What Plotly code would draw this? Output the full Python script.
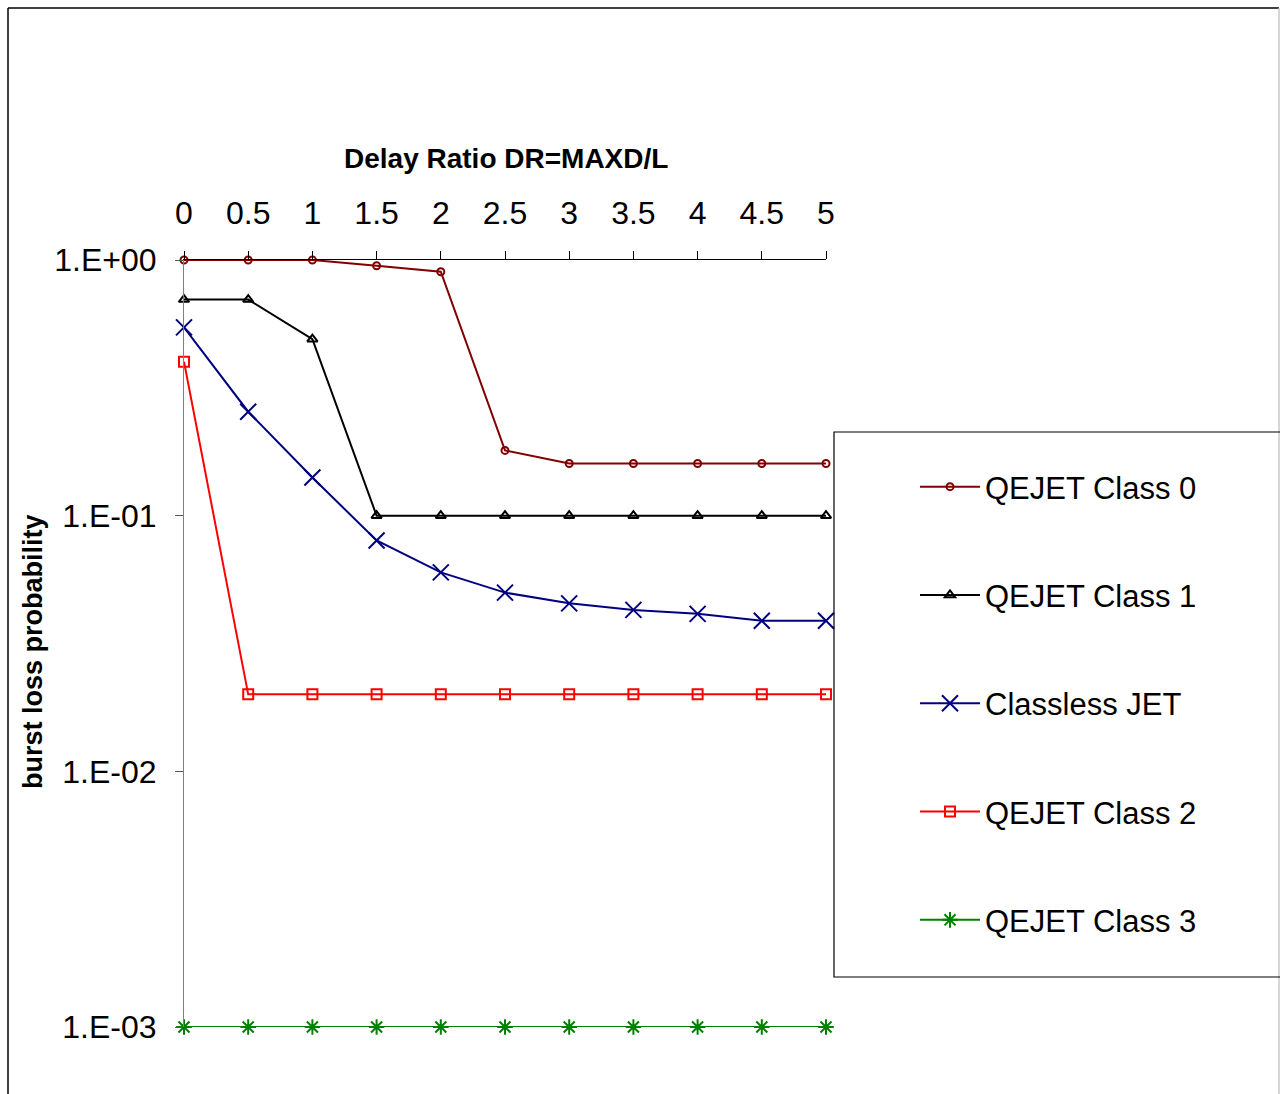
import plotly.graph_objects as go

delay_ratio = [0, 0.5, 1, 1.5, 2, 2.5, 3, 3.5, 4, 4.5, 5]
qejet_class0 = [1.0, 1.0, 1.0, 0.95, 0.90, 0.18, 0.16, 0.16, 0.16, 0.16, 0.16]
qejet_class1 = [0.7, 0.7, 0.49, 0.1, 0.1, 0.1, 0.1, 0.1, 0.1, 0.1, 0.1]
classless_jet = [0.545, 0.255, 0.141, 0.08, 0.06, 0.05, 0.0454, 0.0428, 0.0413, 0.0388, 0.0388]
qejet_class2 = [0.40, 0.02, 0.02, 0.02, 0.02, 0.02, 0.02, 0.02, 0.02, 0.02, 0.02]
qejet_class3 = [0.001] * 11

y_tickvals = [1e-3, 1e-2, 1e-1, 1e0]
y_ticktext = ["1.E-03", "1.E-02", "1.E-01", "1.E+00"]
x_tickvals = [0, 0.5, 1, 1.5, 2, 2.5, 3, 3.5, 4, 4.5, 5]
x_ticktext = ["0", "0.5", "1", "1.5", "2", "2.5", "3", "3.5", "4", "4.5", "5"]

FONT = "Liberation Sans, Arial, sans-serif"

series = [
    ("QEJET Class 0", qejet_class0, "#800000", "circle-open", 7, 2),
    ("QEJET Class 1", qejet_class1, "#000000", "triangle-up-open", 9, 2),
    ("Classless JET", classless_jet, "#000080", "x-thin-open", 16, 2),
    ("QEJET Class 2", qejet_class2, "#FF0000", "square-open", 10, 2),
    ("QEJET Class 3", qejet_class3, "#008000", "asterisk-open", 13, 2),
]

fig = go.Figure()
for i, (name, vals, color, sym, size, lw) in enumerate(series):
    fig.add_trace(go.Scatter(
        x=delay_ratio, y=vals, name=name, mode="lines+markers",
        line=dict(color=color, width=2),
        marker=dict(symbol=sym, size=size, color=color, line=dict(color=color, width=lw)),
        cliponaxis=False, legendgroup=f"g{i}",
    ))

W, H = 1280, 1094
L, R, T, B = 184, 826, 260, 1027
pw, ph = R - L, B - T

def px(xp):
    return (xp - L) / pw

def py(yp):
    return (B - yp) / ph

shapes = [
    # outer frame
    dict(type="line", xref="paper", yref="paper", x0=px(8), x1=px(8), y0=py(8), y1=py(1100), line=dict(color="#000", width=1.5)),
    dict(type="line", xref="paper", yref="paper", x0=px(8), x1=px(1279), y0=py(8), y1=py(8), line=dict(color="#000", width=1.5)),
    dict(type="line", xref="paper", yref="paper", x0=px(1279), x1=px(1279), y0=py(8), y1=py(1100), line=dict(color="#c8c8c8", width=1.5)),
    # legend box
    dict(type="rect", xref="paper", yref="paper", x0=px(834), x1=px(1300), y0=py(977), y1=py(432),
         line=dict(color="#000", width=1.2), fillcolor="rgba(255,255,255,0)"),
]

annotations = [
    dict(text="<b>Delay Ratio DR=MAXD/L</b>", xref="paper", yref="paper", x=px(506), y=py(158),
         showarrow=False, font=dict(family=FONT, size=28, color="#000"), xanchor="center", yanchor="middle"),
    dict(text="<b>burst loss probability</b>", xref="paper", yref="paper", x=px(33), y=py(652),
         showarrow=False, textangle=-90, font=dict(family=FONT, size=27, color="#000"), xanchor="center", yanchor="middle"),
]

fig.update_layout(
    width=W, height=H,
    margin=dict(l=L, r=W - R, t=T, b=H - B, autoexpand=False),
    paper_bgcolor="white", plot_bgcolor="white",
    font=dict(family=FONT, size=32, color="#000"),
    xaxis=dict(range=[0, 5], side="top", tickvals=x_tickvals, ticktext=x_ticktext,
               ticks="outside", ticklen=8, tickcolor="#000", showline=True, linecolor="#000", linewidth=1,
               ticklabelstandoff=14,
               showgrid=False, zeroline=False, tickfont=dict(family=FONT, size=32, color="#000")),
    yaxis=dict(type="log", range=[-3, 0], tickvals=y_tickvals, ticktext=y_ticktext,
               ticks="outside", ticklen=8, tickcolor="#555", showline=True, linecolor="#808080", linewidth=1,
               ticklabelstandoff=12,
               showgrid=False, zeroline=False, tickfont=dict(family=FONT, size=32, color="#000")),
    showlegend=True,
    legend=dict(x=px(915), y=py(460), xanchor="left", yanchor="top", bgcolor="rgba(0,0,0,0)",
                borderwidth=0, font=dict(family=FONT, size=31, color="#000"),
                traceorder="grouped", tracegroupgap=65, itemwidth=60),
    shapes=shapes, annotations=annotations,
)

fig.write_html("out.html")
